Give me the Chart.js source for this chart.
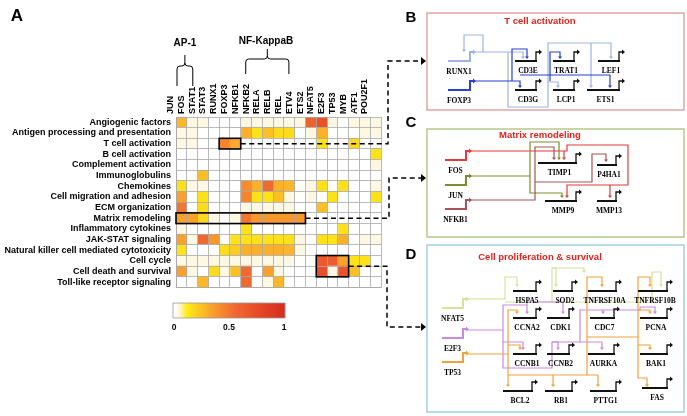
<!DOCTYPE html>
<html>
<head>
<meta charset="utf-8">
<script src="https://cdn.jsdelivr.net/npm/chart.js@4"></script>
<style>
  html, body { margin: 0; padding: 0; background: #fff; }
  canvas { display: block; }
</style>
</head>
<body>
<canvas id="heatmap" width="687" height="416"></canvas>
<script>
// pathways (rows) x transcription factors (columns)
const pathways = [
  'Angiogenic factors', 'Antigen processing and presentation', 'T cell activation',
  'B cell activation', 'Complement activation', 'Immunoglobulins', 'Chemokines',
  'Cell migration and adhesion', 'ECM organization', 'Matrix remodeling',
  'Inflammatory cytokines', 'JAK-STAT signaling', 'Natural killer cell mediated cytotoxicity',
  'Cell cycle', 'Cell death and survival', 'Toll-like receptor signaling'
];
const factors = ['JUN', 'FOS', 'STAT1', 'STAT3', 'RUNX1', 'FOXP3', 'NFKB1', 'NFKB2', 'RELA',
  'RELB', 'REL', 'ETV4', 'ETS2', 'NFAT5', 'E2F3', 'TP53', 'MYB', 'ATF1', 'POU2F1'];

// enrichment score per cell (0 .. 1)
const scores = [
  [0.28,0.04,0.04,0,0,0,0.04,0.04,0.04,0.04,0.04,0.04,0.6,0.72,0.04,0,0.04,0.04,0.04],
  [0.04,0.04,0,0,0,0,0.3,0.15,0.25,0.17,0.17,0,0.04,0.3,0,0,0,0.04,0.04],
  [0.04,0.04,0,0,0.45,0.32,0,0,0,0,0,0,0,0.15,0,0,0.18,0,0],
  [0,0,0,0,0,0,0,0,0,0,0,0,0,0,0,0,0,0,0.15],
  [0,0,0,0,0,0,0,0,0,0,0,0,0,0,0,0,0,0,0.04],
  [0,0,0.26,0,0,0,0,0,0,0,0,0,0,0,0,0,0,0,0],
  [0.15,0.04,0.04,0,0,0,0.42,0.3,0.55,0.3,0.28,0,0.04,0.15,0,0.15,0,0,0.04],
  [0.35,0,0.15,0,0,0,0.45,0.15,0.15,0.25,0.04,0,0.04,0,0.15,0,0,0,0.15],
  [0.5,0,0.17,0,0,0,0.04,0.04,0.04,0.04,0.04,0,0,0.25,0,0,0,0,0],
  [0.35,0.35,0.18,0.04,0,0.04,0.5,0.38,0.38,0.38,0.38,0.38,0,0,0,0,0,0,0],
  [0.04,0,0,0,0,0,0.15,0,0,0,0,0,0,0,0,0.15,0,0,0],
  [0.35,0.04,0.55,0.38,0,0.15,0.15,0.15,0.15,0.15,0.15,0.04,0,0.15,0.15,0.3,0,0.04,0.04],
  [0.15,0,0,0,0.17,0.22,0.3,0.3,0.3,0.3,0.28,0.04,0,0,0,0,0,0,0],
  [0.04,0.04,0.04,0.04,0.04,0.04,0.04,0.04,0.04,0.04,0.04,0,0,0.65,0.65,0.35,0.15,0.15,0],
  [0.35,0.04,0,0.17,0.04,0.25,0.55,0,0.35,0.04,0,0,0,0.72,0.04,0.7,0.25,0,0],
  [0,0,0.28,0,0,0,0.55,0,0.04,0.28,0,0,0,0,0,0,0,0,0]
];
const colorbarTicks = [0, 0.5, 1];

// outlined blocks [firstRow, lastRow, firstCol, lastCol]
const highlights = [[2, 2, 4, 5], [9, 9, 0, 11], [13, 14, 13, 15]];

const SANS = '"Liberation Sans", Arial, Helvetica, sans-serif';
const SERIF = '"Liberation Serif", "Times New Roman", serif';

const stops = [
  [0, [255,255,255]], [0.05, [253,246,220]], [0.12, [255,236,20]], [0.22, [252,202,35]],
  [0.32, [249,170,45]], [0.42, [246,140,45]], [0.55, [241,105,50]], [0.75, [232,75,40]],
  [1, [212,45,28]]
];
function heatColor(v) {
  if (v <= 0) return 'rgb(255,255,255)';
  for (let i = 1; i < stops.length; i++) {
    if (v <= stops[i][0]) {
      const [a, ca] = stops[i - 1], [b, cb] = stops[i];
      const t = (v - a) / (b - a);
      const c = ca.map((x, k) => Math.round(x + (cb[k] - x) * t));
      return `rgb(${c[0]},${c[1]},${c[2]})`;
    }
  }
  return 'rgb(212,45,28)';
}

// ---- drawing helpers for the annotation / network panels ----
function poly(ctx, pts, color, lw, dash) {
  ctx.save();
  ctx.strokeStyle = color; ctx.lineWidth = lw;
  ctx.setLineDash(dash || []);
  ctx.beginPath();
  pts.forEach(([x, y], i) => i ? ctx.lineTo(x, y) : ctx.moveTo(x, y));
  ctx.stroke();
  ctx.restore();
}
function head(ctx, x, y, dir, color, s) {
  s = s || 3;
  ctx.save();
  ctx.fillStyle = color;
  ctx.beginPath();
  if (dir === 'down') { ctx.moveTo(x - s * 0.8, y - s); ctx.lineTo(x + s * 0.8, y - s); ctx.lineTo(x, y); }
  else { ctx.moveTo(x - s, y - s * 0.8); ctx.lineTo(x - s, y + s * 0.8); ctx.lineTo(x, y); }
  ctx.fill();
  ctx.restore();
}
function text(ctx, str, x, y, font, color, align) {
  ctx.save();
  ctx.font = font; ctx.fillStyle = color || '#000';
  ctx.textAlign = align || 'center'; ctx.textBaseline = 'middle';
  ctx.fillText(str, x, y);
  ctx.restore();
}
function gene(ctx, name, x1, x2, y) {
  poly(ctx, [[x1, y], [x2, y]], '#111', 2);
  poly(ctx, [[x2 - 1, y], [x2 - 1, y - 9], [x2 + 2, y - 9]], '#111', 1.3);
  head(ctx, x2 + 5, y - 9, 'right', '#111', 3);
  text(ctx, name, (x1 + x2) / 2 + 2, y + 10, 'bold 7.5px ' + SERIF);
}
function source(ctx, name, x1, x2, y, color) {
  poly(ctx, [[x1, y], [x2, y], [x2, y - 9], [x2 + 3, y - 9]], color, 2);
  head(ctx, x2 + 6, y - 9, 'right', color, 3);
  text(ctx, name, (x1 + x2) / 2, y + 11, 'bold 7.5px ' + SERIF);
}
function links(ctx, list, color) {
  list.forEach(pts => {
    poly(ctx, pts, color, 1.2);
    const [x, y] = pts[pts.length - 1];
    head(ctx, x, y + 1, 'down', color, 2.5);
  });
}
function brace(ctx, xl, xr, yb, yt, yp) {
  const xm = (xl + xr) / 2;
  ctx.save();
  ctx.strokeStyle = '#000'; ctx.lineWidth = 1;
  ctx.beginPath();
  ctx.moveTo(xl, yb); ctx.lineTo(xl, yt + 3);
  ctx.quadraticCurveTo(xl, yt, xl + 3, yt);
  ctx.lineTo(xm - 3, yt);
  ctx.quadraticCurveTo(xm, yt, xm, yt - 3);
  ctx.lineTo(xm, yp);
  ctx.moveTo(xm, yt - 3);
  ctx.quadraticCurveTo(xm, yt, xm + 3, yt);
  ctx.lineTo(xr - 3, yt);
  ctx.quadraticCurveTo(xr, yt, xr, yt + 3);
  ctx.lineTo(xr, yb);
  ctx.stroke();
  ctx.restore();
}

const overlay = {
  id: 'overlay',
  afterDraw(chart) {
    const ctx = chart.ctx;
    const xs = chart.scales.x, ys = chart.scales.y;
    const rowH = (ys.bottom - ys.top) / pathways.length;
    const colX = j => xs.getPixelForValue(j);
    const rowY = i => ys.top + i * rowH;

    // outlined blocks
    const boxes = highlights.map(([r0, r1, c0, c1]) => ({
      l: colX(c0), r: colX(c1 + 1), t: rowY(r0), b: rowY(r1 + 1)
    }));
    boxes.forEach(b => {
      ctx.save(); ctx.strokeStyle = '#000'; ctx.lineWidth = 1.6;
      ctx.strokeRect(b.l, b.t, b.r - b.l, b.b - b.t); ctx.restore();
    });

    // dashed connectors to the panels
    const dash = [5, 3.5];
    const tc = boxes[0], mr = boxes[1], cc = boxes[2];
    poly(ctx, [[tc.r, (tc.t + tc.b) / 2], [388, (tc.t + tc.b) / 2], [388, 61], [421, 61]], '#000', 1.5, dash);
    head(ctx, 426, 61, 'right', '#000', 5);
    poly(ctx, [[mr.r, (mr.t + mr.b) / 2], [389, (mr.t + mr.b) / 2], [389, 178], [421, 178]], '#000', 1.5, dash);
    head(ctx, 426, 178, 'right', '#000', 5);
    poly(ctx, [[cc.r, (cc.t + cc.b) / 2], [387, (cc.t + cc.b) / 2], [387, 327], [421, 327]], '#000', 1.5, dash);
    head(ctx, 426, 327, 'right', '#000', 5);

    // family braces
    brace(ctx, colX(0) + 1, colX(1) + 6, 86, 66, 55);
    text(ctx, 'AP-1', 185, 43, 'bold 10px ' + SANS);
    brace(ctx, colX(6) + 5, colX(10) + 5, 74, 59, 49);
    text(ctx, 'NF-KappaB', 266, 41, 'bold 10px ' + SANS);

    // panel letter A
    text(ctx, 'A', 17, 16, 'bold 17px ' + SANS);

    // colour bar
    const cb = { l: 173, r: 285, t: 303, b: 318 };
    for (let k = 0; k < 112; k++) {
      ctx.fillStyle = heatColor(k / 111);
      ctx.fillRect(cb.l + k, cb.t, 1.2, cb.b - cb.t);
    }
    ctx.save(); ctx.strokeStyle = '#999'; ctx.lineWidth = 0.8;
    ctx.strokeRect(cb.l, cb.t, cb.r - cb.l, cb.b - cb.t); ctx.restore();
    colorbarTicks.forEach(v => {
      text(ctx, String(v), cb.l + 1 + v * (cb.r - cb.l - 2), 328, 'bold 8.5px ' + SANS);
    });

    // ---- right-hand panels ----
    const panels = [
      { letter: 'B', ly: 18, box: [427, 13, 684, 110], border: '#e4abab', title: 'T cell activation', ty: 21 },
      { letter: 'C', ly: 123, box: [427, 129, 684, 237], border: '#bccb92', title: 'Matrix remodeling', ty: 135 },
      { letter: 'D', ly: 255, box: [427, 245, 684, 412], border: '#a8d2e2', title: 'Cell proliferation & survival', ty: 257 }
    ];
    panels.forEach(p => {
      const [l, t, r, b] = p.box;
      ctx.save(); ctx.strokeStyle = p.border; ctx.lineWidth = 1.6;
      ctx.strokeRect(l, t, r - l, b - t); ctx.restore();
      text(ctx, p.letter, 411, p.ly, 'bold 15px ' + SANS);
      text(ctx, p.title, 540, p.ty, 'bold 9.5px ' + SANS, '#e3221c');
    });

    // B: T cell activation
    const lb = '#9fb3e6', db = '#2b3fd6';
    links(ctx, [
      [[473, 52], [523, 52], [523, 58]],
      [[483, 52], [483, 35], [464, 35], [464, 51]],
      [[508, 52], [508, 107], [548, 107], [548, 43], [611, 43], [611, 58]],
      [[591, 43], [591, 87]],
      [[548, 82], [558, 82], [558, 87]]
    ], lb);
    links(ctx, [
      [[473, 81], [520, 81], [520, 87]],
      [[512, 81], [512, 49], [527, 49], [527, 58]],
      [[520, 75], [610, 75], [610, 87]],
      [[550, 81], [550, 52], [560, 52], [560, 58]]
    ], db);
    source(ctx, 'RUNX1', 448, 470, 61, lb);
    source(ctx, 'FOXP3', 448, 470, 90, db);
    [['CD3E', 515, 537, 61], ['TRAT1', 553, 575, 61], ['LEF1', 598, 620, 61],
     ['CD3G', 515, 537, 90], ['LCP1', 553, 575, 90], ['ETS1', 587, 620, 90]]
      .forEach(g => gene(ctx, ...g));

    // C: Matrix remodeling
    const red = '#e8393a', olive = '#7f8c2c', brown = '#a8545a';
    links(ctx, [
      [[469, 151], [564, 151], [564, 159]],
      [[564, 151], [567, 151], [567, 145], [628, 145], [628, 185], [567, 185], [567, 197]],
      [[610, 185], [610, 197]]
    ], red);
    poly(ctx, [[469, 176], [530, 176]], olive, 1.2);
    links(ctx, [
      [[530, 176], [530, 142], [559, 142], [559, 159]],
      [[530, 176], [530, 193], [562, 193], [562, 197]]
    ], olive);
    links(ctx, [
      [[469, 200], [535, 200], [535, 147], [554, 147], [554, 159]],
      [[535, 182], [592, 182], [592, 154], [606, 154], [606, 161]]
    ], brown);
    source(ctx, 'FOS', 445, 466, 160, red);
    source(ctx, 'JUN', 445, 466, 185, olive);
    source(ctx, 'NFKB1', 445, 466, 209, brown);
    [['TIMP1', 538, 577, 163], ['P4HA1', 597, 617, 165], ['MMP9', 545, 577, 201], ['MMP13', 597, 617, 201]]
      .forEach(g => gene(ctx, ...g));

    // D: Cell proliferation & survival
    const yg = '#d4e39a', vi = '#c98ae6', og = '#f2a13a';
    links(ctx, [
      [[466, 299], [505, 299], [505, 277], [517, 277], [517, 286]],
      [[505, 302], [652, 302], [652, 272], [661, 272], [661, 286]],
      [[552, 302], [552, 268], [584, 268], [584, 272]],
      [[552, 268], [552, 268], [556, 268], [556, 286]]
    ], yg);
    links(ctx, [
      [[466, 330], [503, 330], [503, 305], [527, 305], [527, 313]],
      [[527, 305], [527, 302], [563, 302], [563, 313]],
      [[503, 330], [503, 342], [523, 342], [523, 349]],
      [[503, 342], [503, 368], [552, 368], [552, 342], [558, 342], [558, 349]],
      [[552, 342], [580, 342], [580, 310], [603, 310], [603, 313]],
      [[580, 342], [602, 342], [602, 349]],
      [[603, 310], [640, 310], [640, 307], [655, 307], [655, 313]]
    ], vi);
    links(ctx, [
      [[466, 354], [508, 354], [508, 310], [517, 310], [517, 313]],
      [[508, 345], [520, 345], [520, 349]],
      [[508, 354], [508, 386]],
      [[508, 375], [598, 375], [598, 386]],
      [[553, 375], [553, 386]],
      [[587, 375], [587, 277], [602, 277], [602, 286]],
      [[587, 337], [638, 337], [638, 277], [650, 277], [650, 286]],
      [[638, 310], [650, 310], [650, 313]],
      [[638, 337], [638, 345], [650, 345], [650, 349]],
      [[638, 345], [638, 378], [647, 378], [647, 386]]
    ], og);
    source(ctx, 'NFAT5', 442, 463, 308, yg);
    source(ctx, 'E2F3', 442, 463, 338, vi);
    source(ctx, 'TP53', 442, 463, 362, og);
    [['HSPA5', 513, 537, 291], ['SOD2', 553, 573, 291], ['TNFRSF10A', 588, 617, 291], ['TNFRSF10B', 638, 668, 291],
     ['CCNA2', 513, 537, 318], ['CDK1', 547, 570, 318], ['CDC7', 590, 615, 318], ['PCNA', 640, 668, 318],
     ['CCNB1', 513, 537, 354], ['CCNB2', 547, 570, 354], ['AURKA', 588, 615, 354], ['BAK1', 640, 668, 354],
     ['BCL2', 503, 533, 391], ['RB1', 545, 573, 391], ['PTTG1', 590, 617, 391], ['FAS', 642, 668, 388]]
      .forEach(g => gene(ctx, ...g));
  }
};

// one stacked dataset per factor column, each cell = 1 unit wide
const datasets = factors.map((f, j) => ({
  label: f,
  data: pathways.map(() => 1),
  backgroundColor: pathways.map((p, i) => heatColor(scores[i][j])),
  borderWidth: 0,
  barPercentage: 1,
  categoryPercentage: 1
}));

const gridColor = '#a8a8a8';
const ctx = document.getElementById('heatmap').getContext('2d');
new Chart(ctx, {
  type: 'bar',
  data: { labels: pathways, datasets: datasets },
  options: {
    indexAxis: 'y',
    responsive: false,
    animation: false,
    devicePixelRatio: 1,
    layout: { padding: { left: 0, top: 0, right: 306, bottom: 128.5 } },
    plugins: { legend: { display: false }, tooltip: { enabled: false } },
    scales: {
      x: {
        type: 'linear', stacked: true, min: 0, max: factors.length,
        ticks: { display: false, stepSize: 1 },
        grid: { color: gridColor, lineWidth: 0.8, drawTicks: false, z: 1 },
        border: { color: gridColor, width: 0.8, z: 1 },
        afterFit(s) { s.height = 0; }
      },
      x2: {
        type: 'category', labels: factors, position: 'top', offset: true,
        grid: { display: false, drawTicks: false },
        border: { display: false },
        ticks: { autoSkip: false, maxRotation: 90, minRotation: 90, padding: 3, color: '#000',
                 font: { family: SANS, size: 9, weight: 'bold' } },
        afterFit(s) { s.height = 117; }
      },
      y: {
        type: 'category', stacked: true,
        grid: { color: gridColor, lineWidth: 0.8, drawTicks: false, offset: true, z: 1 },
        border: { color: gridColor, width: 0.8, z: 1 },
        ticks: { autoSkip: false, padding: 5, color: '#000',
                 font: { family: SANS, size: 9, weight: 'bold' } },
        afterFit(s) { s.width = 176; }
      }
    }
  },
  plugins: [overlay]
});
</script>
</body>
</html>
